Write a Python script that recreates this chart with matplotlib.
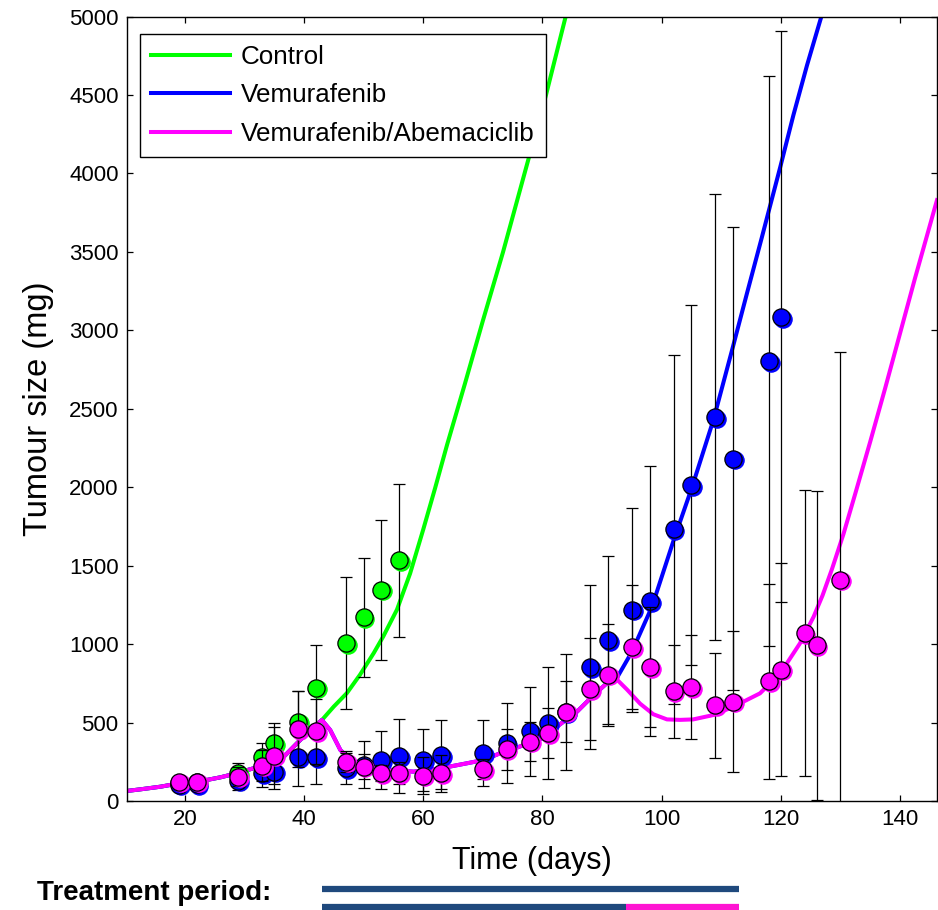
import matplotlib
matplotlib.use("Agg")
import matplotlib.pyplot as plt
import matplotlib.transforms as mtransforms
from matplotlib.lines import Line2D

# ---------------- data ----------------
days_ctrl = [19, 22, 29, 33, 35, 39, 42, 47, 50, 53, 56]
ctrl_mean = [115, 120, 179, 283, 368, 506, 723, 1007, 1171, 1347, 1533]
ctrl_sd = [20, 20, 62, 85, 128, 192, 270, 423, 380, 446, 487]

days_vem = [19, 22, 29, 33, 35, 39, 42, 47, 50, 53, 56, 60, 63, 70, 74, 78, 81,
            84, 88, 91, 95, 98, 102, 105, 109, 112, 118, 120]
vem_mean = [105, 108, 130, 177, 187, 279, 279, 209, 230, 262, 287, 262, 294, 305,
            368, 443, 496, 565, 854, 1028, 1220, 1273, 1731, 2014, 2448, 2182,
            2805, 3086]
vem_sd = [20, 20, 62, 86, 112, 183, 169, 100, 150, 185, 237, 200, 220, 210, 255,
          285, 355, 370, 522, 535, 650, 860, 1112, 1148, 1420, 1475, 1815, 1820]

days_combo = [19, 22, 29, 33, 35, 39, 42, 47, 50, 53, 56, 60, 63, 70, 74, 78, 81,
              84, 88, 91, 95, 98, 102, 105, 109, 112, 118, 120, 124, 126, 130]
combo_mean = [123, 123, 155, 225, 289, 458, 443, 251, 219, 177, 177, 162, 177, 202,
              330, 379, 432, 570, 713, 805, 979, 854, 698, 726, 609, 634, 762, 837,
              1071, 992, 1411]
combo_sd = [20, 20, 60, 100, 183, 240, 208, 65, 80, 50, 70, 118, 117, 65, 130, 125,
            160, 195, 325, 325, 395, 380, 294, 329, 336, 452, 620, 678, 913, 986, 1450]

# model curves
combo_curve_t = [10.3, 12.5, 15.9, 19.0, 22.0, 23.7, 26.0, 27.6, 31.5, 33.8, 36.6,
                 38.8, 41.0, 43.0, 44.4, 46.1, 47.8, 50.0, 53.0, 56.2, 58.4, 62.9,
                 67.3, 70.1, 72.9, 75.7, 80.2, 83.0, 85.8, 88.6, 90.8, 92.4, 94.2,
                 96.4, 98.6, 100.9, 103.1, 105.3, 108.7, 112.0, 116.5, 119.9, 123.2,
                 125.5, 127.0, 128.6, 130.5, 132.5, 135.0, 137.5, 140.0, 142.5,
                 144.5, 146.2]
combo_curve_v = [64, 74, 91, 112, 126, 134, 151, 166, 208, 229, 282,
                 367, 452, 516, 452, 325, 261, 225, 203, 193, 187, 208,
                 240, 261, 304, 340, 403, 490, 569, 675, 750, 778, 710,
                 620, 553, 520, 517, 520, 548, 600, 686, 813, 1004,
                 1174, 1310, 1480, 1700, 1960, 2290, 2630, 2980, 3330,
                 3600, 3830]

# control model diverges from the shared curve after the peak at day 43
ctrl_branch_t = [45.0, 47.2, 49.4, 51.7, 53.3, 55.6, 57.8, 60.0, 62.0, 64.0, 67.0,
                 70.0, 73.4, 77.0, 80.6, 83.9]
ctrl_branch_v = [602, 688, 805, 943, 1049, 1220, 1450, 1730, 1995, 2270, 2660,
                 3060, 3500, 4000, 4500, 5000]
# vemurafenib model diverges after day 92.4
vem_branch_t = [95.0, 98.4, 102.0, 105.1, 108.7, 112.0, 114.3, 116.8, 119.9, 122.1,
                124.4, 126.8]
vem_branch_v = [950, 1240, 1660, 2000, 2430, 2900, 3233, 3590, 4040, 4370, 4690,
                5000]

treat_vem = (43, 113)      # vemurafenib period (days)
treat_abema = (94, 113)    # abemaciclib added (days)

labels = ["Control", "Vemurafenib", "Vemurafenib/Abemaciclib"]
colors = ["#00FF00", "#0000FF", "#FF00FF"]

# ---------------- figure ----------------
plt.rcParams["font.family"] = ["Liberation Sans", "DejaVu Sans"]
fig = plt.figure(figsize=(9.38, 9.10), dpi=100)
ax = fig.add_axes([0.1354, 0.1198, 0.8635, 0.8620])

k_ctrl = combo_curve_t.index(43.0) + 1
k_vem = combo_curve_t.index(92.4) + 1
ctrl_curve_t = combo_curve_t[:k_ctrl] + ctrl_branch_t
ctrl_curve_v = combo_curve_v[:k_ctrl] + ctrl_branch_v
vem_curve_t = combo_curve_t[:k_vem] + vem_branch_t
vem_curve_v = combo_curve_v[:k_vem] + vem_branch_v

curves = [(ctrl_curve_t, ctrl_curve_v), (vem_curve_t, vem_curve_v),
          (combo_curve_t, combo_curve_v)]
series = [(days_ctrl, ctrl_mean, ctrl_sd), (days_vem, vem_mean, vem_sd),
          (days_combo, combo_mean, combo_sd)]

for (t, v), c in zip(curves, colors):
    ax.plot(t, v, color=c, lw=2.9, zorder=2, solid_joinstyle="round")

shadow = mtransforms.offset_copy(ax.transData, fig=fig, x=1.3, y=-1.3, units="points")
z = 3
for (d, m, s), c in zip(series, colors):
    ax.errorbar(d, m, yerr=s, fmt="none", ecolor="black", elinewidth=0.9,
                capsize=4.3, capthick=0.9, zorder=z)
    ax.plot(d, m, "o", ls="none", ms=12.5, mfc=c, mec=c, mew=0.8,
            transform=shadow, zorder=z + 0.1)
    ax.plot(d, m, "o", ls="none", ms=12.4, mfc=c, mec="black", mew=0.9,
            zorder=z + 0.2)
    z += 1

ax.set_xlim(10.3, 146.2)
ax.set_ylim(0, 5000)
ax.set_xticks(range(20, 141, 20))
ax.set_yticks(range(0, 5001, 500))
ax.tick_params(direction="in", length=4, width=0.9, top=True, right=True,
               labelsize=16, pad=6)
for sp in ax.spines.values():
    sp.set_linewidth(1.0)

ax.set_xlabel("Time (days)", fontsize=22)
ax.xaxis.set_label_coords(0.5, -0.058)
ax.set_ylabel("Tumour size (mg)", fontsize=23.5)
ax.yaxis.set_label_coords(-0.09, 0.5)

handles = [Line2D([], [], color=c, lw=2.9) for c in colors]
leg = ax.legend(handles, labels, loc="upper left", bbox_to_anchor=(0.016, 0.978),
                borderaxespad=0, fontsize=18.7, handlelength=3.05,
                handletextpad=0.42, labelspacing=0.56, borderpad=0.42,
                fancybox=False, framealpha=1, edgecolor="black")
leg.get_frame().set_linewidth(1.0)

# treatment period bars (x in data units, y in figure units)
trans = mtransforms.blended_transform_factory(ax.transData, fig.transFigure)
navy = "#1F497D"
pink = "#FF14D2"
ax.plot(list(treat_vem), [1 - 889 / 910] * 2, color=navy, lw=4.5, transform=trans,
        clip_on=False, solid_capstyle="butt")
ax.plot([treat_vem[0], treat_abema[0]], [1 - 907 / 910] * 2, color=navy, lw=4.5,
        transform=trans, clip_on=False, solid_capstyle="butt")
ax.plot(list(treat_abema), [1 - 907 / 910] * 2, color=pink, lw=4.5,
        transform=trans, clip_on=False, solid_capstyle="butt")
fig.text(37 / 938, 1 - 900 / 910, "Treatment period:", fontsize=20,
         fontweight="bold", ha="left", va="baseline")

fig.savefig("out.png", dpi=100)
